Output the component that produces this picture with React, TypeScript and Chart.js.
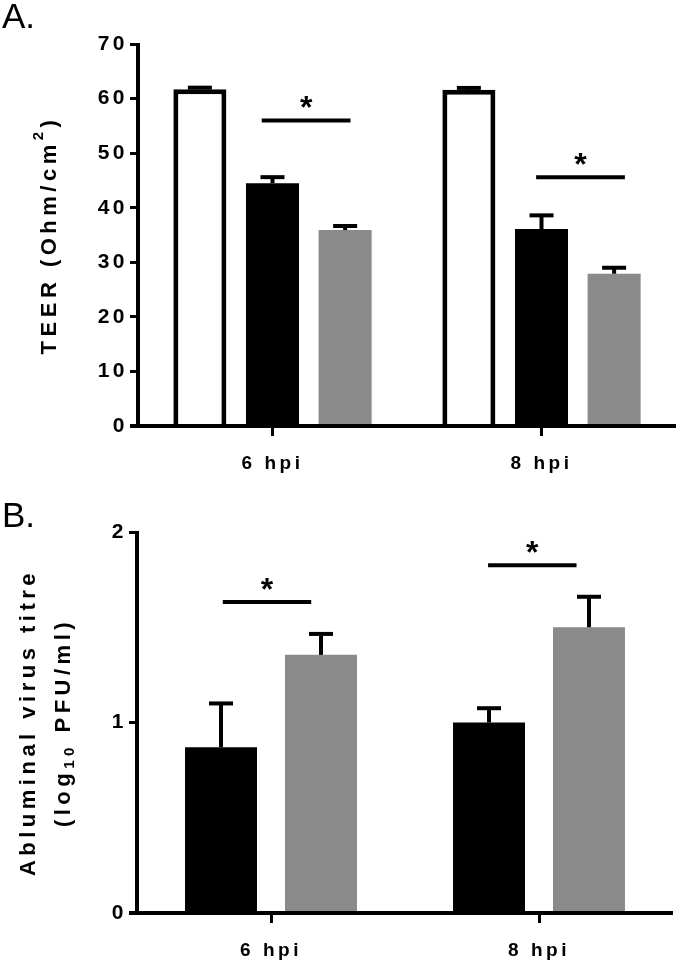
import React, { useEffect, useRef } from 'react';
import { Chart, registerables } from 'chart.js';

Chart.register(...registerables);

const FONT = "'Liberation Sans', Arial, sans-serif";
const GRAY = '#8a8a8a';

// ---------- data ----------
const categories = ['6 hpi', '8 hpi'];

// Panel A: TEER (Ohm/cm2)
const teerTicksMax = 70;
const teerTickStep = 10;
const teerControl = [61.7, 61.6];
const teerControlErr = [0.3, 0.35];
const teerBlack = [44.5, 36.1];
const teerBlackErr = [1.1, 2.5];
const teerGray = [35.9, 27.9];
const teerGrayErr = [0.75, 1.1];
const teerSigLevel = [56, 45.6];
const teerSigFrom = [-0.04, -0.02];
const teerSigTo = [0.29, 0.31];

// Panel B: Abluminal virus titre (log10 PFU/ml)
const titreTicksMax = 2;
const titreTickStep = 1;
const titreBlack = [0.87, 1.0];
const titreBlackErr = [0.23, 0.075];
const titreGray = [1.355, 1.5];
const titreGrayErr = [0.11, 0.16];
const titreSigLevel = [1.633, 1.826];
const titreSigFrom = [-0.18, -0.19];
const titreSigTo = [0.15, 0.14];

type Seg = { text: string; size: number; shift: number };

function drawRich(ctx: CanvasRenderingContext2D, segs: Seg[], baseX: number, centerY: number, spacing: number) {
  ctx.save();
  ctx.letterSpacing = spacing + 'px';
  ctx.fillStyle = '#000';
  ctx.textBaseline = 'alphabetic';
  ctx.textAlign = 'left';
  let total = 0;
  const widths: number[] = [];
  segs.forEach((s) => {
    ctx.font = `bold ${s.size}px ${FONT}`;
    const w = ctx.measureText(s.text).width;
    widths.push(w);
    total += w;
  });
  ctx.translate(baseX, centerY);
  ctx.rotate(-Math.PI / 2);
  let x = -total / 2;
  segs.forEach((s, i) => {
    ctx.font = `bold ${s.size}px ${FONT}`;
    ctx.fillText(s.text, x, s.shift);
    x += widths[i];
  });
  ctx.restore();
}

const spacingPlugin = {
  id: 'spacing',
  beforeUpdate(chart: any) {
    chart.ctx.letterSpacing = '3.5px';
  },
  beforeDraw(chart: any) {
    chart.ctx.letterSpacing = '3.5px';
  },
};

function makeDecorPlugin(opts: {
  sigLevel: number[];
  sigFrom: number[];
  sigTo: number[];
  panel: string;
  panelBaseline: number;
  title: Seg[][];
  titleBaseX: number[];
}) {
  return {
    id: 'decor',
    afterDatasetsDraw(chart: any) {
      const ctx: CanvasRenderingContext2D = chart.ctx;
      const xs = chart.scales.x;
      const ys = chart.scales.y;
      const area = chart.chartArea;
      ctx.save();
      ctx.strokeStyle = '#000';
      ctx.lineCap = 'butt';
      // error bars
      chart.data.datasets.forEach((ds: any, di: number) => {
        const meta = chart.getDatasetMeta(di);
        meta.data.forEach((bar: any, i: number) => {
          const v = ds.data[i];
          const e = ds.errors[i];
          const yTop = ys.getPixelForValue(v + e);
          const yBar = ys.getPixelForValue(v);
          ctx.lineWidth = 4;
          ctx.beginPath();
          ctx.moveTo(bar.x, yBar);
          ctx.lineTo(bar.x, yTop);
          ctx.stroke();
          ctx.beginPath();
          ctx.moveTo(bar.x - 12, yTop);
          ctx.lineTo(bar.x + 12, yTop);
          ctx.stroke();
        });
      });
      // significance lines + asterisks
      opts.sigLevel.forEach((lv, i) => {
        const y = ys.getPixelForValue(lv);
        const x1 = xs.getPixelForValue(i + opts.sigFrom[i]);
        const x2 = xs.getPixelForValue(i + opts.sigTo[i]);
        ctx.lineWidth = 4;
        ctx.beginPath();
        ctx.moveTo(x1, y);
        ctx.lineTo(x2, y);
        ctx.stroke();
        ctx.fillStyle = '#000';
        ctx.font = `bold 32px ${FONT}`;
        ctx.letterSpacing = '0px';
        ctx.textAlign = 'center';
        ctx.textBaseline = 'alphabetic';
        ctx.fillText('*', (x1 + x2) / 2, y - 2);
      });
      // axes
      ctx.lineWidth = 4;
      ctx.beginPath();
      ctx.moveTo(area.left, area.top - 1);
      ctx.lineTo(area.left, area.bottom);
      ctx.stroke();
      ctx.beginPath();
      ctx.moveTo(area.left - 8, area.bottom);
      ctx.lineTo(area.right, area.bottom);
      ctx.stroke();
      ctx.restore();

      // titles
      const cy = (area.top + area.bottom) / 2;
      opts.title.forEach((line, li) => drawRich(ctx, line, opts.titleBaseX[li], cy, 4.5));

      // panel label
      ctx.save();
      ctx.letterSpacing = '0px';
      ctx.fillStyle = '#000';
      ctx.font = `35px ${FONT}`;
      ctx.textAlign = 'left';
      ctx.textBaseline = 'alphabetic';
      ctx.fillText(opts.panel, 2, opts.panelBaseline);
      ctx.restore();
    },
  };
}

function baseOptions(max: number, step: number, yWidth: number, xHeight: number, padTop: number, padRight: number) {
  return {
    responsive: false,
    animation: false as const,
    events: [],
    layout: { padding: { top: padTop, right: padRight, left: 0, bottom: 0 } },
    plugins: { legend: { display: false }, tooltip: { enabled: false } },
    scales: {
      x: {
        afterFit: (s: any) => {
          s.height = xHeight;
        },
        border: { display: false },
        grid: {
          offset: false,
          drawOnChartArea: false,
          drawTicks: true,
          tickLength: 10,
          tickWidth: 3,
          tickColor: '#000',
          color: '#000',
        },
        ticks: {
          color: '#000',
          font: { family: FONT, size: 19, weight: 'bold' as const },
          padding: 16,
          maxRotation: 0,
        },
      },
      y: {
        min: 0,
        max,
        afterFit: (s: any) => {
          s.width = yWidth;
        },
        border: { display: false },
        grid: {
          drawOnChartArea: false,
          drawTicks: true,
          tickLength: 8,
          tickWidth: 3,
          tickColor: '#000',
          color: '#000',
        },
        ticks: {
          stepSize: step,
          color: '#000',
          font: { family: FONT, size: 21, weight: 'bold' as const },
          padding: 2,
        },
      },
    },
  };
}

function PanelA() {
  const ref = useRef<HTMLCanvasElement>(null);
  useEffect(() => {
    const chart = new Chart(ref.current as HTMLCanvasElement, {
      type: 'bar',
      data: {
        labels: categories,
        datasets: [
          {
            data: teerControl,
            errors: teerControlErr,
            backgroundColor: '#fff',
            borderColor: '#000',
            borderWidth: 5,
          } as any,
          { data: teerBlack, errors: teerBlackErr, backgroundColor: '#000', borderWidth: 0 } as any,
          { data: teerGray, errors: teerGrayErr, backgroundColor: GRAY, borderWidth: 0 } as any,
        ],
      },
      options: {
        ...baseOptions(teerTicksMax, teerTickStep, 138, 54, 44, 4),
        datasets: { bar: { barPercentage: 0.73, categoryPercentage: 0.81 } },
      } as any,
      plugins: [
        spacingPlugin,
        makeDecorPlugin({
          sigLevel: teerSigLevel,
          sigFrom: teerSigFrom,
          sigTo: teerSigTo,
          panel: 'A.',
          panelBaseline: 28,
          title: [
            [
              { text: 'TEER (Ohm/cm', size: 22, shift: 0 },
              { text: '2', size: 15, shift: -13 },
              { text: ')', size: 22, shift: 0 },
            ],
          ],
          titleBaseX: [56],
        }),
      ],
    });
    return () => chart.destroy();
  }, []);
  return <canvas ref={ref} width={680} height={480} style={{ display: 'block', width: 680, height: 480 }} />;
}

function PanelB() {
  const ref = useRef<HTMLCanvasElement>(null);
  useEffect(() => {
    const chart = new Chart(ref.current as HTMLCanvasElement, {
      type: 'bar',
      data: {
        labels: categories,
        datasets: [
          { data: titreBlack, errors: titreBlackErr, backgroundColor: '#000', borderWidth: 0 } as any,
          { data: titreGray, errors: titreGrayErr, backgroundColor: GRAY, borderWidth: 0 } as any,
        ],
      },
      options: {
        ...baseOptions(titreTicksMax, titreTickStep, 137, 48, 52, 7),
        datasets: { bar: { barPercentage: 0.72, categoryPercentage: 0.746 } },
      } as any,
      plugins: [
        spacingPlugin,
        makeDecorPlugin({
          sigLevel: titreSigLevel,
          sigFrom: titreSigFrom,
          sigTo: titreSigTo,
          panel: 'B.',
          panelBaseline: 47,
          title: [
            [{ text: 'Abluminal virus titre', size: 22, shift: 0 }],
            [
              { text: '(log', size: 22, shift: 0 },
              { text: '10', size: 15, shift: 4 },
              { text: ' PFU/ml)', size: 22, shift: 0 },
            ],
          ],
          titleBaseX: [35, 70],
        }),
      ],
    });
    return () => chart.destroy();
  }, []);
  return <canvas ref={ref} width={680} height={481} style={{ display: 'block', width: 680, height: 481 }} />;
}

export default function App() {
  useEffect(() => {
    document.body.style.margin = '0';
  }, []);
  return (
    <div style={{ width: 680, height: 961, background: '#fff', position: 'relative' }}>
      <PanelA />
      <PanelB />
    </div>
  );
}
